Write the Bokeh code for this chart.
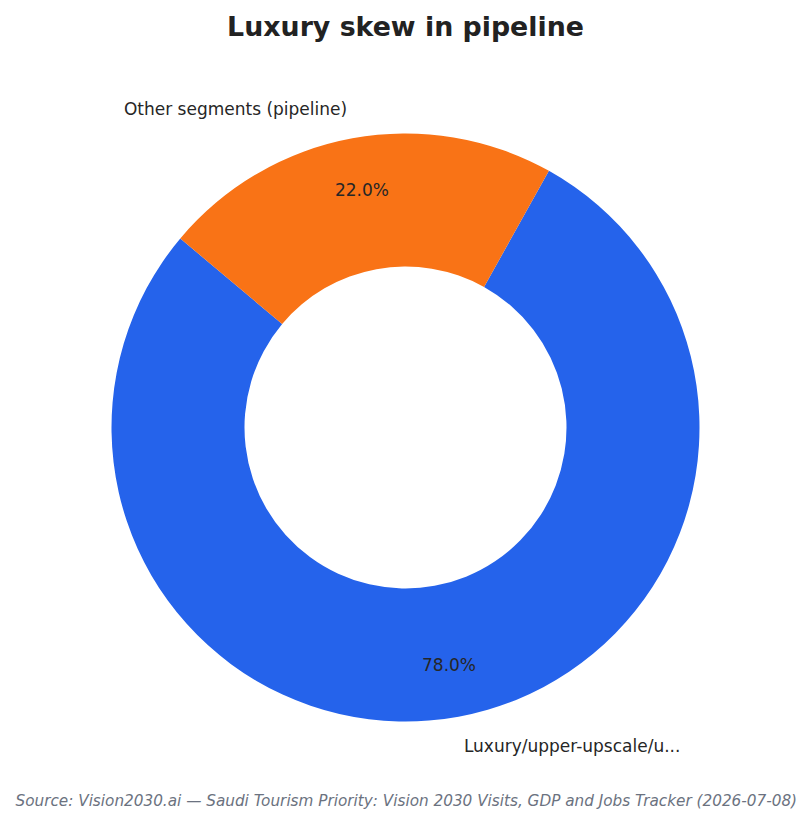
import numpy as np
from bokeh.plotting import figure
from bokeh.models import ColumnDataSource, Range1d, Label
from bokeh.core.properties import value
from bokeh.embed import file_html
from bokeh.resources import INLINE

# Data
segments = ["Luxury/upper-upscale/u...", "Other segments (pipeline)"]
shares = [78.0, 22.0]
colors = ["#2563EB", "#F97316"]

title_text = "Luxury skew in pipeline"
source_text = "Source: Vision2030.ai \u2014 Saudi Tourism Priority: Vision 2030 Visits, GDP and Jobs Tracker (2026-07-08)"

W, H = 800, 816
cx, cy = 405, H - 427
r_out, r_in = 294, 161
start_deg = 140

frac = np.array(shares) / sum(shares)
ends = np.deg2rad(start_deg) + np.cumsum(frac) * 2 * np.pi
starts = ends - frac * 2 * np.pi
mids = (starts + ends) / 2

source = ColumnDataSource(dict(
    start=starts, end=ends, color=colors, seg=segments,
))

p = figure(
    width=W, height=H,
    x_range=Range1d(0, W), y_range=Range1d(0, H),
    output_backend="svg", toolbar_location=None, tools="",
    min_border=0, outline_line_color=None,
)
p.axis.visible = False
p.grid.visible = False

p.annular_wedge(
    x=cx, y=cy, inner_radius=r_in, outer_radius=r_out,
    start_angle="start", end_angle="end",
    fill_color="color", line_color=None, source=source,
)

# percent labels inside the ring
pct = ColumnDataSource(dict(
    x=cx + 0.82 * r_out * np.cos(mids),
    y=cy + 0.82 * r_out * np.sin(mids),
    t=["%.1f%%" % s for s in shares],
))
p.text(x="x", y="y", text="t", source=pct, text_align="center",
       text_baseline="middle", text_font=value("DejaVu Sans"),
       text_font_size="17px", text_color="#262626")

# category labels outside
lx = cx + 1.1 * r_out * np.cos(mids)
ly = cy + 1.1 * r_out * np.sin(mids)
for x, y, t in zip(lx, ly, segments):
    p.text(x=[x], y=[y], text=[t], text_align="left" if x >= cx else "right",
           text_baseline="middle", text_font=value("DejaVu Sans"),
           text_font_size="17px", text_color="#262626")

p.add_layout(Label(x=405, y=H - 26, x_units="screen", y_units="screen",
                   text=title_text, text_align="center", text_baseline="middle",
                   text_font="DejaVu Sans", text_font_style="bold",
                   text_font_size="26.8px", text_color="#222222"))
p.add_layout(Label(x=15, y=H - 800, x_units="screen", y_units="screen",
                   text=source_text, text_align="left", text_baseline="middle",
                   text_font="DejaVu Sans", text_font_style="italic",
                   text_font_size="15.25px", text_color="#6B7280"))

open("out.html", "w").write(file_html(p, INLINE))
